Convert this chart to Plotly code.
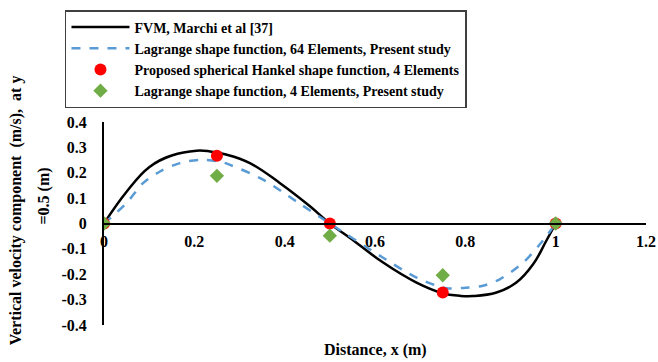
import plotly.graph_objects as go

# FVM reference solution (Marchi et al.)
fvm_x = [0, 0.05, 0.1, 0.15, 0.205, 0.235, 0.27, 0.323, 0.389, 0.456, 0.5,
         0.544, 0.618, 0.692, 0.75, 0.788, 0.817, 0.869, 0.913, 0.95, 0.979, 1.0]
fvm_v = [0, 0.125, 0.222, 0.268, 0.287, 0.284, 0.272, 0.238, 0.160, 0.068, 0,
         -0.056, -0.154, -0.233, -0.275, -0.285, -0.286, -0.272, -0.233, -0.161, -0.069, 0]

# Lagrange shape function, 64 elements
lag64_x = [0, 0.05, 0.087, 0.124, 0.168, 0.212, 0.257, 0.279, 0.352, 0.426, 0.5,
           0.618, 0.692, 0.758, 0.80, 0.839, 0.876, 0.928, 0.965, 1.0]
lag64_v = [0, 0.081, 0.160, 0.205, 0.238, 0.251, 0.244, 0.231, 0.173, 0.087, 0,
           -0.135, -0.213, -0.255, -0.253, -0.245, -0.220, -0.154, -0.082, 0]

# Spherical Hankel shape function, 4 elements
hankel_x = [0, 0.25, 0.5, 0.75, 1.0]
hankel_v = [0, 0.267, 0, -0.272, 0]

# Lagrange shape function, 4 elements
lag4_x = [0, 0.25, 0.5, 0.75, 1.0]
lag4_v = [0, 0.188, -0.048, -0.204, 0]

x_ticks = [0, 0.2, 0.4, 0.6, 0.8, 1, 1.2]
x_tick_text = ["0", "0.2", "0.4", "0.6", "0.8", "1", "1.2"]
y_ticks = [0.4, 0.3, 0.2, 0.1, 0, -0.1, -0.2, -0.3, -0.4]
y_tick_text = ["0.4", "0.3", "0.2", "0.1", "0", "-0.1", "-0.2", "-0.3", "-0.4"]

FONT = "Tinos, Times New Roman, Liberation Serif, serif"


def b(s):
    return f"<b>{s}</b>"


def serif(size):
    return dict(family=FONT, size=size, color="black")


fig = go.Figure()
fig.add_trace(go.Scatter(
    x=fvm_x, y=fvm_v, mode="lines",
    line=dict(color="black", width=2.5, shape="spline", smoothing=1.2),
    name=b("FVM, Marchi et al [37]")))
fig.add_trace(go.Scatter(
    x=lag64_x, y=lag64_v, mode="lines",
    line=dict(color="#5B9BD5", width=2.5, dash="dash", shape="spline", smoothing=0.9),
    name=b("Lagrange shape function, 64 Elements, Present study")))
fig.add_trace(go.Scatter(
    x=hankel_x, y=hankel_v, mode="markers",
    marker=dict(color="#FF0000", size=12, symbol="circle"),
    name=b("Proposed spherical Hankel shape function, 4 Elements")))
fig.add_trace(go.Scatter(
    x=lag4_x, y=lag4_v, mode="markers",
    marker=dict(color="#70AD47", size=11, symbol="diamond"),
    name=b("Lagrange shape function, 4 Elements, Present study")))

fig.update_layout(
    width=658, height=362,
    margin=dict(l=104, r=12, t=121, b=37),
    paper_bgcolor="white", plot_bgcolor="white",
    font=serif(16),
    showlegend=True,
    legend=dict(
        x=-0.072, y=1.544, xanchor="left", yanchor="top",
        bordercolor="#404040", borderwidth=1.5, bgcolor="white",
        font=serif(14),
        tracegroupgap=0, itemwidth=58,
    ),
    xaxis=dict(
        range=[0, 1.2], tickvals=x_ticks, ticktext=[b(t) for t in x_tick_text],
        showgrid=False, zeroline=False, showline=True, linecolor="black", linewidth=2,
        anchor="free", position=0.5, ticks="", ticklabelstandoff=3, automargin=False,
        tickfont=serif(16),
    ),
    yaxis=dict(
        range=[-0.4, 0.4], tickvals=y_ticks, ticktext=[b(t) for t in y_tick_text],
        showgrid=False, zeroline=False, showline=True, linecolor="black", linewidth=2,
        ticks="", ticklabelstandoff=12, automargin=False,
        tickfont=serif(16),
    ),
    annotations=[
        dict(text=b("Distance, x (m)"), xref="paper", yref="paper", x=0.5, y=-0.07,
             xanchor="center", yanchor="top", showarrow=False, font=serif(16)),
        dict(text=b("Vertical velocity component  (m/s),  at y"),
             xref="paper", yref="paper", x=-0.163, y=0.564, xanchor="center", yanchor="middle",
             textangle=-90, showarrow=False, font=serif(16)),
        dict(text=b("=0.5 (m)"),
             xref="paper", yref="paper", x=-0.111, y=0.637, xanchor="center", yanchor="middle",
             textangle=-90, showarrow=False, font=serif(16)),
    ],
)

fig.write_html("out.html")
